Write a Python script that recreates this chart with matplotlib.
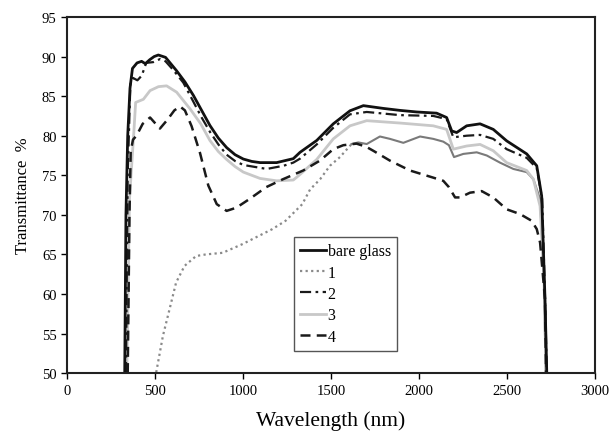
import matplotlib
matplotlib.use("Agg")
import matplotlib.pyplot as plt

plt.rcParams['font.family'] = ['Liberation Serif', 'DejaVu Serif']

# bare glass
x_bare = [328, 335, 345, 358, 372, 398, 424, 445, 470, 495, 519, 560, 623, 670, 718, 765, 812, 860, 907,
          955, 1002, 1050, 1097, 1191, 1286, 1324, 1419, 1513, 1608, 1684, 1797, 1892, 1987, 2100, 2157,
          2186, 2214, 2271, 2347, 2422, 2498, 2612, 2669, 2697, 2716, 2726]
y_bare = [50, 70, 80, 86, 88.5, 89.2, 89.4, 89.1, 89.6, 90.0, 90.2, 89.9, 88.2, 86.8, 85.1, 83.2, 81.3,
          79.7, 78.5, 77.6, 77.05, 76.75, 76.6, 76.6, 77.1, 77.9, 79.4, 81.5, 83.15, 83.8, 83.45, 83.2,
          83.0, 82.85, 82.3, 80.6, 80.4, 81.25, 81.5, 80.8, 79.35, 77.7, 76.2, 72.4, 59.3, 50]

# sample 1 (dotted part, then dense part)
x_s1a = [507, 545, 583, 620, 668, 734, 790, 884, 997, 1091, 1167, 1242, 1337, 1381, 1438, 1494, 1551, 1617]
y_s1a = [50.1, 54.7, 58.1, 61.45, 63.55, 64.8, 65.0, 65.2, 66.3, 67.35, 68.2, 69.25, 71.35, 73.2, 74.5, 76.2,
         77.3, 78.95]
x_s1b = [1617, 1655, 1703, 1778, 1835, 1911, 2006, 2081, 2138, 2170, 2199, 2252, 2328, 2385, 2460, 2536,
         2612, 2650, 2688, 2710, 2720]
y_s1b = [78.95, 79.15, 78.95, 79.9, 79.6, 79.1, 79.9, 79.6, 79.25, 78.8, 77.3, 77.7, 77.9, 77.5, 76.6, 75.8,
         75.4, 74.5, 72.0, 62, 50]

# sample 2
x_s2 = [335, 345, 360, 375, 400, 425, 450, 490, 530, 560, 604, 661, 718, 765, 812, 860, 907, 955, 1002,
        1135, 1230, 1286, 1324, 1419, 1513, 1608, 1703, 1892, 2081, 2157, 2195, 2271, 2347, 2422, 2498,
        2612, 2669, 2700, 2718, 2726]
y_s2 = [50, 75, 86.5, 87.3, 87.0, 87.6, 89.2, 89.3, 89.7, 89.4, 88.3, 86.7, 84.3, 82.3, 80.5, 78.9, 77.6,
        76.8, 76.3, 75.8, 76.2, 76.6, 77.1, 78.9, 81.0, 82.7, 83.0, 82.6, 82.5, 82.1, 79.8, 80.0, 80.1,
        79.6, 78.3, 77.2, 75.9, 72, 58, 50]

# sample 3
x_s3 = [340, 355, 380, 390, 434, 472, 520, 566, 623, 699, 760, 812, 860, 907, 955, 1002, 1097, 1191, 1286,
        1324, 1419, 1513, 1608, 1703, 1892, 2081, 2157, 2195, 2271, 2347, 2422, 2498, 2612, 2650, 2688,
        2710, 2722]
y_s3 = [50, 72, 80.5, 84.2, 84.6, 85.7, 86.2, 86.3, 85.5, 83.4, 81.5, 79.4, 78.0, 77.0, 76.1, 75.4, 74.6,
        74.3, 74.4, 75.1, 77.0, 79.6, 81.25, 81.9, 81.6, 81.25, 80.8, 78.3, 78.7, 78.9, 78.1, 76.6, 75.6,
        74.5, 71.1, 62, 50]

# sample 4
x_s4 = [345, 355, 362, 375, 395, 430, 472, 500, 528, 570, 610, 642, 670, 708, 756, 803, 851, 907, 962,
        1037, 1132, 1227, 1342, 1437, 1513, 1570, 1645, 1700, 1740, 1835, 1949, 2081, 2138, 2170, 2205,
        2233, 2290, 2356, 2422, 2498, 2574, 2640, 2669, 2688, 2716, 2722]
y_s4 = [50, 70, 78, 79.5, 80.0, 81.5, 82.3, 81.6, 80.9, 82.0, 83.2, 83.7, 83.2, 81.2, 77.8, 73.7, 71.35,
        70.5, 70.9, 72.0, 73.5, 74.5, 75.6, 76.85, 78.3, 78.8, 79.0, 78.6, 78.1, 76.85, 75.6, 74.7, 74.3,
        73.5, 72.2, 72.2, 72.8, 73.0, 72.2, 70.7, 70.1, 69.25, 68.2, 66.5, 59.3, 50]

labels = ['bare glass', '1', '2', '3', '4']
x_ticks = [0, 500, 1000, 1500, 2000, 2500, 3000]
y_ticks = [50, 55, 60, 65, 70, 75, 80, 85, 90, 95]

fig = plt.figure(figsize=(6.09, 4.35), dpi=100)
ax = fig.add_axes([0.110, 0.140, 0.867, 0.8186])

kw = dict(solid_joinstyle='round', dash_joinstyle='round')
ax.plot(x_s1a, y_s1a, color='#8a8a8a', linestyle=(0, (1, 1.5)), lw=1.6, label=labels[1], **kw)
ax.plot(x_s1b, y_s1b, color='#7a7a7a', linestyle='-', lw=1.5, **kw)
ax.plot(x_s3, y_s3, color='#c8c8c8', linestyle='-', lw=2.0, label=labels[3], **kw)
ax.plot(x_s4, y_s4, color='#1a1a1a', linestyle=(0, (4, 2.5)), lw=1.8, label=labels[4], **kw)
ax.plot(x_s2, y_s2, color='#1a1a1a', linestyle=(0, (5, 2, 1.2, 2)), lw=1.6, label=labels[2], **kw)
ax.plot(x_bare, y_bare, color='#111111', linestyle='-', lw=2.0, label=labels[0], **kw)

ax.set_xlim(0, 3000)
ax.set_ylim(50, 95)
ax.set_xticks(x_ticks)
ax.set_yticks(y_ticks)
ax.tick_params(direction='out', length=4, width=1, labelsize=10.5, top=False, right=False)
for s in ax.spines.values():
    s.set_linewidth(1.5)
    s.set_color('#222222')

ax.set_xlabel('Wavelength (nm)', fontsize=15.5, labelpad=10)
ax.set_ylabel('Transmittance  %', fontsize=12, labelpad=8)

handles, labs = ax.get_legend_handles_labels()
order = [labs.index(l) for l in labels]
leg = ax.legend([handles[i] for i in order], [labs[i] for i in order],
                loc='upper left', bbox_to_anchor=(0.43, 0.382), borderaxespad=0,
                fontsize=11.5, handlelength=1.6, handletextpad=0.1, labelspacing=0.33,
                borderpad=0.4, fancybox=False, framealpha=1)
leg.get_frame().set_edgecolor('#555555')
leg.get_frame().set_linewidth(1.0)

fig.savefig('out.png', dpi=100)
